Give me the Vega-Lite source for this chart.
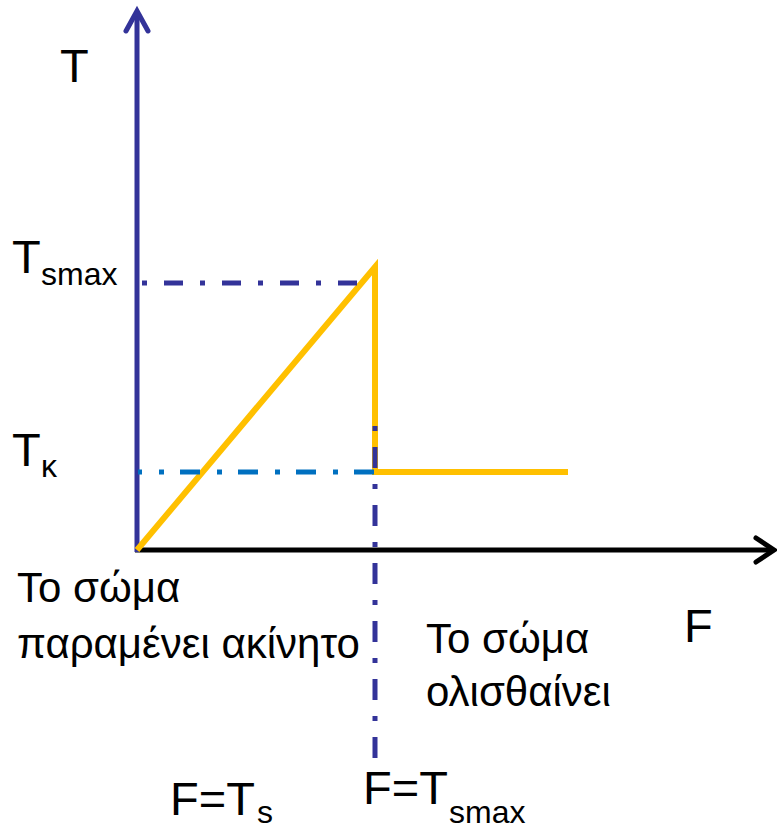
{
  "$schema": "https://vega.github.io/schema/vega-lite/v6.json",
  "width": 777,
  "height": 829,
  "autosize": {"type": "none"},
  "padding": 0,
  "background": "white",
  "config": {"view": {"stroke": null}, "text": {"font": "Liberation Sans", "color": "black"}},
  "datasets": {
    "xaxis": [{"i": 0, "f": -2, "t": 0}, {"i": 1, "f": 636, "t": 0}],
    "xarrow": [{"i": 0, "f": 619, "t": 12}, {"i": 1, "f": 637, "t": 0}, {"i": 2, "f": 619, "t": -12}],
    "yaxis": [{"i": 0, "f": 0, "t": -2}, {"i": 1, "f": 0, "t": 538}],
    "yarrow": [{"i": 0, "f": -11, "t": 519}, {"i": 1, "f": 0, "t": 539}, {"i": 2, "f": 11, "t": 519}],
    "friction": [{"i": 0, "f": 0, "t": 0}, {"i": 1, "f": 238, "t": 283}, {"i": 2, "f": 238, "t": 78}, {"i": 3, "f": 431, "t": 78}],
    "dashTop": [{"i": 0, "f": 5, "t": 267}, {"i": 1, "f": 225, "t": 267}],
    "dashKappa": [{"i": 0, "f": 1, "t": 78}, {"i": 1, "f": 238, "t": 78}],
    "dashVert": [{"i": 0, "f": 238, "t": 124}, {"i": 1, "f": 238, "t": -212}],
    "bigLabels": [
      {"f": -77, "t": 468, "label": "T"},
      {"f": -125, "t": 277, "label": "T"},
      {"f": -125, "t": 84, "label": "T"},
      {"f": 547, "t": -92, "label": "F"},
      {"f": 33, "t": -265, "label": "F=T"},
      {"f": 226, "t": -254, "label": "F=T"}
    ],
    "subLabels": [
      {"f": -96, "t": 265, "label": "smax"},
      {"f": -96, "t": 73, "label": "κ"},
      {"f": 120, "t": -273, "label": "s"},
      {"f": 312, "t": -273, "label": "smax"}
    ],
    "leftText": [
      {"f": -120, "t": -52, "label": "Το σώμα"},
      {"f": -120, "t": -108, "label": "παραμένει ακίνητο"}
    ],
    "rightText": [
      {"f": 289, "t": -103, "label": "Το σώμα"},
      {"f": 289, "t": -156, "label": "ολισθαίνει"}
    ]
  },
  "encoding": {
    "x": {"field": "f", "type": "quantitative", "scale": {"domain": [-137, 640], "nice": false, "zero": false}, "axis": null},
    "y": {"field": "t", "type": "quantitative", "scale": {"domain": [-279, 550], "nice": false, "zero": false}, "axis": null}
  },
  "layer": [
    {"data": {"name": "xaxis"}, "mark": {"type": "line", "color": "black", "strokeWidth": 5}, "encoding": {"order": {"field": "i"}}},
    {"data": {"name": "xarrow"}, "mark": {"type": "line", "color": "black", "strokeWidth": 5, "strokeCap": "round", "strokeJoin": "miter"}, "encoding": {"order": {"field": "i"}}},
    {"data": {"name": "yaxis"}, "mark": {"type": "line", "color": "#333399", "strokeWidth": 5}, "encoding": {"order": {"field": "i"}}},
    {"data": {"name": "yarrow"}, "mark": {"type": "line", "color": "#333399", "strokeWidth": 5, "strokeCap": "round", "strokeJoin": "miter"}, "encoding": {"order": {"field": "i"}}},
    {"data": {"name": "friction"}, "mark": {"type": "line", "color": "#FFC000", "strokeWidth": 6, "strokeJoin": "miter"}, "encoding": {"order": {"field": "i"}}},
    {"data": {"name": "dashTop"}, "mark": {"type": "line", "color": "#333399", "strokeWidth": 5, "strokeDash": [5, 17, 19, 17]}, "encoding": {"order": {"field": "i"}}},
    {"data": {"name": "dashKappa"}, "mark": {"type": "line", "color": "#0070C0", "strokeWidth": 5, "strokeDash": [20, 17, 5, 16], "strokeDashOffset": 16}, "encoding": {"order": {"field": "i"}}},
    {"data": {"name": "dashVert"}, "mark": {"type": "line", "color": "#333399", "strokeWidth": 5, "strokeDash": [5, 16, 21, 16]}, "encoding": {"order": {"field": "i"}}},
    {"data": {"name": "bigLabels"}, "mark": {"type": "text", "fontSize": 47, "align": "left", "baseline": "alphabetic"}, "encoding": {"text": {"field": "label"}}},
    {"data": {"name": "subLabels"}, "mark": {"type": "text", "fontSize": 32, "align": "left", "baseline": "alphabetic"}, "encoding": {"text": {"field": "label"}}},
    {"data": {"name": "leftText"}, "mark": {"type": "text", "fontSize": 42, "align": "left", "baseline": "alphabetic"}, "encoding": {"text": {"field": "label"}}},
    {"data": {"name": "rightText"}, "mark": {"type": "text", "fontSize": 42, "align": "left", "baseline": "alphabetic"}, "encoding": {"text": {"field": "label"}}}
  ]
}
